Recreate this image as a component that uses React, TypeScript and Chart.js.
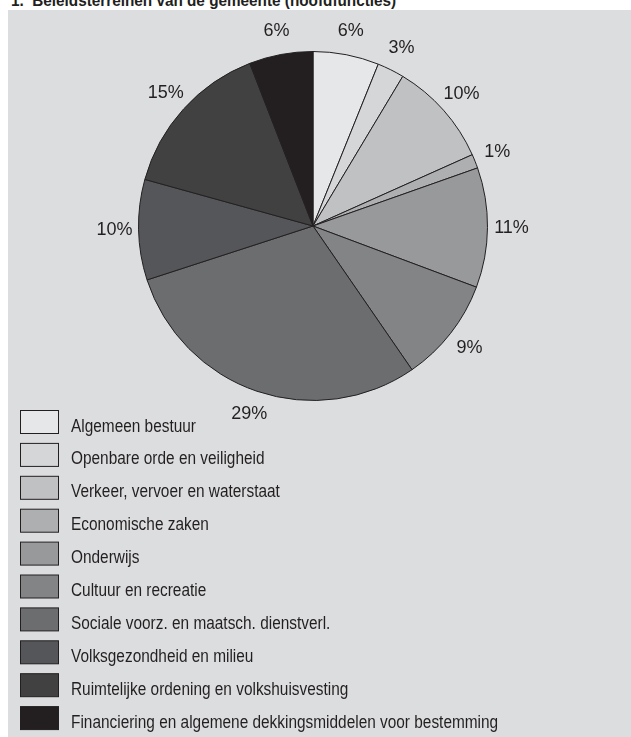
import React, { useEffect, useRef } from "react";
import { Chart, registerables } from "chart.js";

Chart.register(...registerables);

const title = "1.  Beleidsterreinen van de gemeente (hoofdfuncties)";

const categories = [
  "Algemeen bestuur",
  "Openbare orde en veiligheid",
  "Verkeer, vervoer en waterstaat",
  "Economische zaken",
  "Onderwijs",
  "Cultuur en recreatie",
  "Sociale voorz. en maatsch. dienstverl.",
  "Volksgezondheid en milieu",
  "Ruimtelijke ordening en volkshuisvesting",
  "Financiering en algemene dekkingsmiddelen voor bestemming",
];

const shares = [6.1, 2.5, 9.7, 1.3, 11.1, 9.7, 29.6, 9.3, 14.8, 5.9];

const percentLabels = ["6%", "3%", "10%", "1%", "11%", "9%", "29%", "10%", "15%", "6%"];

const colors = [
  "#e6e7e9",
  "#d5d6d8",
  "#c0c1c3",
  "#aeafb1",
  "#98999b",
  "#838486",
  "#6c6d6f",
  "#555659",
  "#414142",
  "#231f20",
];

const FONT = '"Liberation Sans", Arial, sans-serif';
const INK = "#231f20";

const sliceLabelPlugin = {
  id: "sliceLabels",
  afterDatasetsDraw(chart: any) {
    const meta = chart.getDatasetMeta(0);
    const ctx = chart.ctx;
    ctx.save();
    ctx.font = `18px ${FONT}`;
    ctx.fillStyle = INK;
    ctx.textAlign = "center";
    ctx.textBaseline = "middle";
    meta.data.forEach((arc: any, i: number) => {
      const { x, y, startAngle, endAngle, outerRadius } = arc.getProps(
        ["x", "y", "startAngle", "endAngle", "outerRadius"],
        true
      );
      const a = (startAngle + endAngle) / 2;
      const r = outerRadius + 24;
      ctx.fillText(percentLabels[i], x + Math.cos(a) * r, y + Math.sin(a) * r);
    });
    ctx.restore();
  },
};

const legendPlugin = {
  id: "listLegend",
  afterDraw(chart: any) {
    const ctx = chart.ctx;
    const labels = chart.data.labels as string[];
    const bg = chart.data.datasets[0].backgroundColor as string[];
    ctx.save();
    labels.forEach((lab, i) => {
      const cy = 412 + i * 32.9;
      ctx.fillStyle = bg[i];
      ctx.fillRect(12.5, cy - 11.5, 38, 23);
      ctx.strokeStyle = INK;
      ctx.lineWidth = 1;
      ctx.strokeRect(12.5, cy - 11.5, 38, 23);
      ctx.save();
      ctx.translate(63, cy + 9.5);
      ctx.scale(0.88, 1);
      ctx.fillStyle = INK;
      ctx.font = `17.5px ${FONT}`;
      ctx.textAlign = "left";
      ctx.textBaseline = "alphabetic";
      ctx.fillText(lab, 0, 0);
      ctx.restore();
    });
    ctx.restore();
  },
};

export default function App() {
  const ref = useRef<HTMLCanvasElement | null>(null);

  useEffect(() => {
    if (!ref.current) return;
    const chart = new Chart(ref.current, {
      type: "pie",
      data: {
        labels: categories,
        datasets: [
          {
            data: shares,
            backgroundColor: colors,
            borderColor: INK,
            borderWidth: 1,
          },
        ],
      },
      options: {
        responsive: false,
        animation: false,
        layout: { padding: { left: 130, right: 143, top: 41, bottom: 336 } },
        plugins: {
          legend: { display: false },
          tooltip: { enabled: false },
        },
      },
      plugins: [sliceLabelPlugin, legendPlugin],
    });
    return () => chart.destroy();
  }, []);

  return (
    <div
      style={{
        position: "absolute",
        left: 0,
        top: 0,
        width: 631,
        height: 737,
        overflow: "hidden",
        background: "#ffffff",
      }}
    >
      <div
        style={{
          position: "absolute",
          left: 11,
          top: -8,
          fontFamily: FONT,
          fontWeight: "bold",
          fontSize: 17,
          color: INK,
          whiteSpace: "pre",
          lineHeight: "17px",
          transform: "scaleX(0.9)",
          transformOrigin: "left top",
        }}
      >
        {title}
      </div>
      <div
        style={{
          position: "absolute",
          left: 8,
          top: 10,
          width: 623,
          height: 727,
          background: "#dcdddf",
        }}
      >
        <canvas ref={ref} width={623} height={727} style={{ display: "block" }} />
      </div>
    </div>
  );
}
